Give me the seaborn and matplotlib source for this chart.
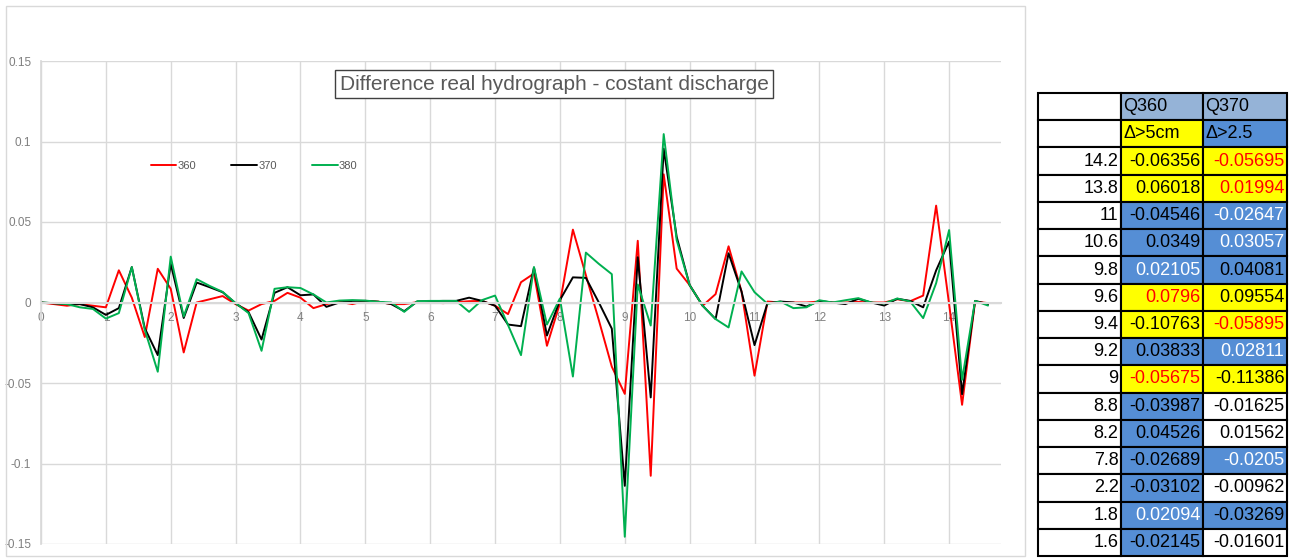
import matplotlib
matplotlib.use("Agg")
import matplotlib.pyplot as plt
import numpy as np
import pandas as pd
import seaborn as sns
from matplotlib import ticker
from matplotlib.patches import Rectangle

# time steps (0.0 ... 14.6, every 0.2)
t = np.round(np.arange(74) * 0.2, 1)

q360 = [0, -0.001, -0.002, -0.001, -0.002, -0.003, 0.020, 0.003, -0.02145, 0.02094,
        0.0085, -0.03102, 0.0, 0.002, 0.004, -0.001, -0.005, -0.001, 0.001, 0.006,
        0.003, -0.0035, -0.001, 0.0005, -0.001, 0.001, 0.0005, -0.001, -0.001, 0.0002,
        0.0, -0.0004, 0.0002, 0.0008, 0.001, -0.002, -0.0072, 0.0126, 0.018, -0.02689,
        -0.0005, 0.04526, 0.017, -0.011, -0.03987, -0.05675, 0.03833, -0.10763, 0.0796, 0.02105,
        0.0108, -0.002, 0.0052, 0.0349, 0.0068, -0.04546, 0.0006, 0.0, 0.0, 0.0,
        0.0006, 0.0, 0.0, 0.0004, 0.0, 0.0, 0.002, 0.0008, 0.0043, 0.06018,
        -0.001, -0.06356, 0.0006, -0.0004]
q370 = [0, -0.0005, -0.001, -0.001, -0.003, -0.0077, -0.0035, 0.022, -0.01601, -0.03269,
        0.024, -0.00962, 0.0124, 0.0095, 0.0064, -0.0005, -0.006, -0.023, 0.006, 0.0095,
        0.0045, 0.005, -0.0027, 0.0, 0.001, 0.001, 0.0005, -0.001, -0.0054, 0.0006,
        0.0008, 0.001, 0.001, 0.003, 0.001, -0.002, -0.0137, -0.0147, 0.0217, -0.0205,
        0.0015, 0.01562, 0.0153, 0.0, -0.01625, -0.11386, 0.02811, -0.05895, 0.09554, 0.04081,
        0.0108, -0.002, -0.0103, 0.03057, 0.0068, -0.02647, -0.0004, 0.0006, 0.0, -0.0025,
        0.001, 0.0, -0.001, 0.0023, 0.0, -0.0019, 0.0023, 0.001, -0.003, 0.01994,
        0.0379, -0.05695, 0.001, -0.001]
q380 = [0, -0.0004, -0.001, -0.003, -0.004, -0.010, -0.0066, 0.022, -0.017, -0.043,
        0.0285, -0.0087, 0.0145, 0.0103, 0.0066, -0.0004, -0.0066, -0.030, 0.0085, 0.0095,
        0.009, 0.005, 0.0, 0.0012, 0.0015, 0.0012, 0.0004, 0.0, -0.0058, 0.0008,
        0.001, 0.001, 0.001, -0.0058, 0.0015, 0.0043, -0.014, -0.0327, 0.022, -0.0137,
        0.0025, -0.046, 0.031, 0.024, 0.0176, -0.1455, 0.0112, -0.0143, 0.1046, 0.0387,
        0.0108, -0.002, -0.0103, -0.0155, 0.0193, 0.0064, -0.0008, 0.0006, -0.0035, -0.003,
        0.0014, 0.0, 0.0014, 0.0027, 0.0, -0.0006, 0.0025, 0.0006, -0.0097, 0.012,
        0.045, -0.048, 0.001, -0.0019]

series_names = ["360", "370", "380"]
series_colors = ["#FF0000", "#000000", "#00B050"]

# side table
tab_rows = ["14.2", "13.8", "11", "10.6", "9.8", "9.6", "9.4", "9.2", "9", "8.8", "8.2", "7.8", "2.2", "1.8", "1.6"]
tab_q360 = ["-0.06356", "0.06018", "-0.04546", "0.0349", "0.02105", "0.0796", "-0.10763", "0.03833",
            "-0.05675", "-0.03987", "0.04526", "-0.02689", "-0.03102", "0.02094", "-0.02145"]
tab_q370 = ["-0.05695", "0.01994", "-0.02647", "0.03057", "0.04081", "0.09554", "-0.05895", "0.02811",
            "-0.11386", "-0.01625", "0.01562", "-0.0205", "-0.00962", "-0.03269", "-0.01601"]
Y, B, W = "#FFFF00", "#558ED5", "#FFFFFF"
fill_q360 = [Y, Y, B, B, B, Y, Y, B, Y, B, B, B, B, B, B]
fill_q370 = [Y, Y, B, B, B, Y, Y, B, Y, W, W, B, W, B, W]
font_q360 = ["k", "k", "k", "k", "w", "r", "k", "k", "r", "k", "k", "k", "k", "w", "k"]
font_q370 = ["r", "r", "w", "w", "k", "k", "r", "w", "k", "k", "k", "w", "k", "k", "k"]

sns.set_theme(style="white")
plt.rcParams["axes.unicode_minus"] = False
plt.rcParams["font.family"] = ["Liberation Sans Narrow", "Liberation Sans", "DejaVu Sans"]

fig = plt.figure(figsize=(12.97, 5.58), dpi=100)
W_PX, H_PX = 1297, 558

# chart area border
fig.patches.append(Rectangle((6 / W_PX, 2 / H_PX), 1019 / W_PX, 550 / H_PX, transform=fig.transFigure,
                             fill=False, edgecolor="#D9D9D9", linewidth=1))

ax = fig.add_axes([41 / W_PX, 14 / H_PX, 960 / W_PX, 483 / H_PX])
df = pd.DataFrame({"t": np.tile(t, 3), "value": q360 + q370 + q380, "series": np.repeat(series_names, len(t))})
sns.lineplot(data=df, x="t", y="value", hue="series", palette=dict(zip(series_names, series_colors)),
             linewidth=1.4, ax=ax)

ax.set_xlim(0, 14.8)
ax.set_ylim(-0.15, 0.15)
ax.set_xticks(range(0, 15))
ax.set_yticks([-0.15, -0.1, -0.05, 0, 0.05, 0.1, 0.15])
ax.yaxis.set_major_formatter(ticker.FuncFormatter(lambda v, p: "%g" % round(v, 2)))
ax.grid(True, color="#D9D9D9", linewidth=1)
ax.set_axisbelow(True)
ax.set_xlabel(None)
ax.set_ylabel(None)
for s in ["top", "right"]:
    ax.spines[s].set_visible(False)
ax.spines["left"].set_color("#D9D9D9")
ax.spines["bottom"].set_position(("data", 0))
ax.spines["bottom"].set_color("#D9D9D9")
ax.spines["bottom"].set_linewidth(1.5)
ax.tick_params(axis="both", length=0, labelsize=8.5, labelcolor="#7F7F7F")
ax.tick_params(axis="x", pad=7)
ax.tick_params(axis="y", pad=7)

handles, labels = ax.get_legend_handles_labels()
ax.legend(handles, labels, ncol=3, frameon=False, loc="center", bbox_to_anchor=(254 / W_PX, 1 - 166 / H_PX),
          bbox_transform=fig.transFigure, handlelength=2.3, handletextpad=0.1, columnspacing=3.2,
          fontsize=8, labelcolor="#595959")

fig.text(554 / W_PX, 1 - 84 / H_PX, "Difference real hydrograph - costant discharge", ha="center", va="center",
         fontsize=15, color="#595959",
         bbox=dict(boxstyle="square,pad=0.2", facecolor="white", edgecolor="#404040", linewidth=1))

# table on the right
tax = fig.add_axes([1038 / W_PX, 2 / H_PX, 249 / W_PX, 463 / H_PX])
tax.axis("off")
cell_text = [["", "Q360", "Q370"], ["", "Δ>5cm", "Δ>2.5"]]
cell_fill = [[W, "#95B3D7", "#95B3D7"], [W, Y, B]]
cell_font = [["k", "k", "k"], ["k", "k", "k"]]
for r, a, b, fa, fb, ca, cb in zip(tab_rows, tab_q360, tab_q370, fill_q360, fill_q370, font_q360, font_q370):
    cell_text.append([r, a, b])
    cell_fill.append([W, fa, fb])
    cell_font.append(["k", ca, cb])
tab = tax.table(cellText=cell_text, cellColours=cell_fill, bbox=[0, 0, 1, 1],
                colWidths=[83, 82, 84], cellLoc="right")
tab.auto_set_font_size(False)
color_map = {"k": "#000000", "w": "#FFFFFF", "r": "#FF0000"}
for (i, j), cell in tab.get_celld().items():
    cell.set_linewidth(1.5)
    cell.set_edgecolor("black")
    txt = cell.get_text()
    txt.set_fontsize(13)
    txt.set_color(color_map[cell_font[i][j]])
    if i < 2:
        txt.set_horizontalalignment("left")
        cell._loc = "left"
    cell.PAD = 0.03

fig.savefig("out.png", dpi=100)
